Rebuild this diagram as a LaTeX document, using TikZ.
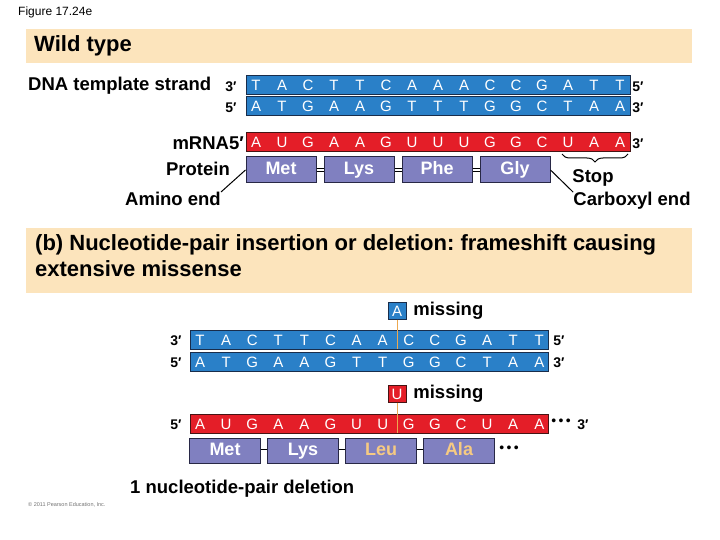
\documentclass[tikz,border=0pt]{standalone}
\usepackage{fontspec}
\setmainfont{Liberation Sans}
\frenchspacing
\usetikzlibrary{positioning,decorations.pathreplacing}
\definecolor{bandTan}{RGB}{252,228,188}
\definecolor{dnaBlue}{RGB}{42,128,200}
\definecolor{dnaEdge}{RGB}{25,45,75}
\definecolor{rnaRed}{RGB}{228,30,40}
\definecolor{rnaEdge}{RGB}{70,20,20}
\definecolor{protPurple}{RGB}{128,128,192}
\definecolor{protEdge}{RGB}{40,40,70}
\definecolor{newAmino}{RGB}{246,202,130}
\definecolor{cutLine}{RGB}{236,168,80}

\begin{document}
\begin{tikzpicture}[x=1pt, y=-1pt,
  band/.style={fill=bandTan, draw=none},
  dnabar/.style={draw=dnaEdge, fill=dnaBlue, line width=1pt, inner sep=0pt, minimum height=19pt},
  rnabar/.style={draw=rnaEdge, fill=rnaRed, line width=1pt, inner sep=0pt, minimum height=19pt},
  base/.style={text=white, font=\fontsize{15}{15}\selectfont, inner sep=0pt},
  prot/.style={draw=protEdge, fill=protPurple, line width=1pt, minimum height=26pt,
               inner sep=0pt, text height=13pt, text depth=3pt, text=white,
               font=\fontsize{18}{18}\selectfont\bfseries},
  lbl/.style={font=\fontsize{18.5}{20}\selectfont\bfseries, inner sep=0pt},
  endlbl/.style={font=\fontsize{14}{14}\selectfont\bfseries, inner sep=0pt},
  missbox/.style={minimum width=18pt, minimum height=17pt, inner sep=0pt, text=white,
                  font=\fontsize{15}{15}\selectfont},
  pep/.style={draw=black, double=white, double distance=2pt, line width=0.7pt},
  cut/.style={draw=cutLine, line width=1pt},
  dots/.style={font=\fontsize{14}{14}\selectfont, inner sep=0pt}
]
\useasboundingbox (0,0) rectangle (720,540);

\node[anchor=west, font=\fontsize{12}{12}\selectfont, inner sep=0pt] (fig) at (18,12) {Figure 17.24e};

% wild type
\fill[band] (26,29) rectangle (692,63);
\node[anchor=west, font=\fontsize{22}{24}\selectfont\bfseries, inner sep=0pt] (wtitle) at (34,46) {Wild type};

\node[lbl, anchor=west] (tmpl) at (28,85.5) {DNA template strand};
\node[dnabar, minimum width=384pt] (wtop) at (438,85.5) {};
\node[dnabar, minimum width=384pt] (wbot) at (438,106.5) {};
\node[rnabar, minimum width=384pt] (wrna) at (438,142.5) {};
\foreach \b [count=\i] in {T,A,C,T,T,C,A,A,A,C,C,G,A,T,T}
  \node[base] (wt\i) at ({256+26*(\i-1)},85.5) {\b};
\foreach \b [count=\i] in {A,T,G,A,A,G,T,T,T,G,G,C,T,A,A}
  \node[base] (wb\i) at ({256+26*(\i-1)},106.5) {\b};
\foreach \b [count=\i] in {A,U,G,A,A,G,U,U,U,G,G,C,U,A,A}
  \node[base] (wr\i) at ({256+26*(\i-1)},142.5) {\b};
\node[endlbl] (wt3) at (231,86.5) {3′};
\node[endlbl] (wt5) at (638,86.5) {5′};
\node[endlbl] (wb5) at (231,107.5) {5′};
\node[endlbl] (wb3) at (638,107.5) {3′};
\node[lbl, anchor=east] (mrna) at (244,143) {mRNA5′};
\node[endlbl] (wr3) at (638,143.5) {3′};

\node[lbl, anchor=east] (protein) at (230,169) {Protein};
\node[prot, minimum width=70pt] (met) at (281,170) {Met};
\node[prot, minimum width=70pt] (lys) at (359,170) {Lys};
\node[prot, minimum width=70pt] (phe) at (437,170) {Phe};
\node[prot, minimum width=70pt] (gly) at (515,170) {Gly};
\draw[pep] (met) -- (lys);
\draw[pep] (lys) -- (phe);
\draw[pep] (phe) -- (gly);

\coordinate (stopR) at (628,154);
\coordinate (stopL) at (562,154);
\draw[line width=1pt, decorate, decoration={brace, amplitude=8pt}] (stopR) -- (stopL);
\node[lbl] (stop) at (593,178) {Stop};
\node[lbl] (amino) at (173,199) {Amino end};
\node[lbl] (carb) at (632,201) {Carboxyl end};
\draw[line width=1pt] (amino.north east) -- (met.west);
\draw[line width=1pt] (gly.east) -- (carb.north west);

% frameshift
\fill[band] (26,228) rectangle (692,293);
\node[anchor=north west, align=left, inner sep=0pt, font=\fontsize{22}{26}\selectfont\bfseries] (btitle) at (35,234)
  {(b) Nucleotide-pair insertion or deletion: frameshift causing\\extensive missense};

\node[missbox, fill=dnaBlue, draw=dnaEdge] (amiss) at (397,311) {A};
\node[lbl, right=7pt of amiss] (amisstxt) {missing};
\node[dnabar, minimum width=358pt] (mtop) at (369,340) {};
\node[dnabar, minimum width=358pt] (mbot) at (369,362) {};
\foreach \b [count=\i] in {T,A,C,T,T,C,A,A,C,C,G,A,T,T}
  \node[base] (mt\i) at ({200+26.1*(\i-1)},340) {\b};
\foreach \b [count=\i] in {A,T,G,A,A,G,T,T,G,G,C,T,A,A}
  \node[base] (mb\i) at ({200+26.1*(\i-1)},362) {\b};
\coordinate (acut) at (397,349);
\draw[cut] (amiss.south) -- (acut);
\node[endlbl] (mt3) at (176,341) {3′};
\node[endlbl] (mt5) at (559,341) {5′};
\node[endlbl] (mb5) at (176,363) {5′};
\node[endlbl] (mb3) at (559,363) {3′};

\node[missbox, fill=rnaRed, draw=rnaEdge] (umiss) at (397,394) {U};
\node[lbl, right=7pt of umiss] (umisstxt) {missing};
\node[rnabar, minimum width=358pt] (mrna2) at (369,424) {};
\foreach \b [count=\i] in {A,U,G,A,A,G,U,U,G,G,C,U,A,A}
  \node[base] (mr\i) at ({200+26.1*(\i-1)},424) {\b};
\coordinate (ucut) at (397,433);
\draw[cut] (umiss.south) -- (ucut);
\node[endlbl] (mr5) at (176,425) {5′};
\node[dots] (rdots) at (561,422) {•\,•\,•};
\node[endlbl] (mr3) at (583,425) {3′};

\node[prot, minimum width=71pt, minimum height=25pt] (met2) at (225,450.5) {Met};
\node[prot, minimum width=71pt, minimum height=25pt] (lys2) at (303,450.5) {Lys};
\node[prot, minimum width=71pt, minimum height=25pt, text=newAmino] (leu) at (381,450.5) {Leu};
\node[prot, minimum width=71pt, minimum height=25pt, text=newAmino] (ala) at (459,450.5) {Ala};
\draw[pep] (met2) -- (lys2);
\draw[pep] (lys2) -- (leu);
\draw[pep] (leu) -- (ala);
\node[dots] (pdots) at (509,449) {•\,•\,•};

\node[lbl, anchor=west] (deletion) at (130,489) {1 nucleotide-pair deletion};
\node[anchor=west, font=\fontsize{5.5}{6}\selectfont, text=black!55, inner sep=0pt] (copy) at (28,505) {© 2011 Pearson Education, Inc.};
\end{tikzpicture}
\end{document}
